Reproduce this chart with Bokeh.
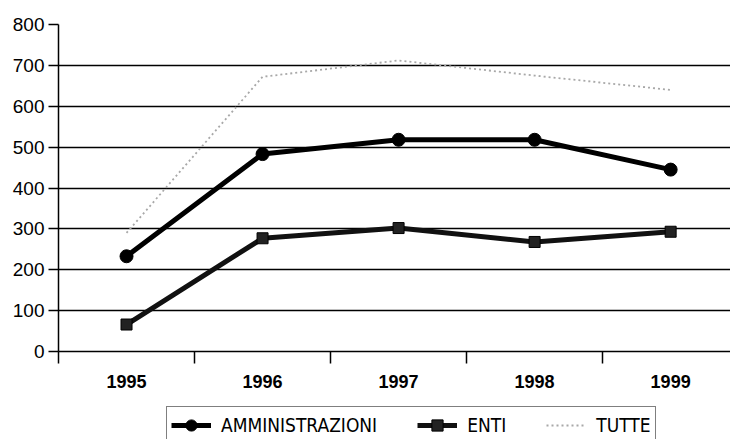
from bokeh.plotting import figure
from bokeh.layouts import column
from bokeh.models import Range1d, FixedTicker, Legend, LegendItem, ColumnDataSource
from bokeh.embed import file_html
from bokeh.resources import INLINE

years = ["1995", "1996", "1997", "1998", "1999"]
amministrazioni = [233, 483, 518, 518, 445]
enti = [66, 277, 302, 268, 293]
tutte = [290, 672, 712, 675, 640]
y_ticks = [0, 100, 200, 300, 400, 500, 600, 700, 800]
series_names = ["AMMINISTRAZIONI", "ENTI", "TUTTE"]

xs = list(range(len(years)))
src = ColumnDataSource(dict(x=xs, amm=amministrazioni, enti=enti, tutte=tutte))

FONT = "Liberation Sans, Arial, sans-serif"
NARROW = "DejaVu Sans Condensed, sans-serif"

STY = {
    "amm_line": dict(line_color="black", line_width=5),
    "amm_mark": dict(marker="circle", size=13, fill_color="black", line_color="black"),
    "enti_line": dict(line_color="#111111", line_width=5),
    "enti_mark": dict(marker="square", size=11, fill_color="#222222", line_color="black"),
    "tutte_line": dict(line_color="#a8a8a8", line_width=1.8, line_dash="2 3"),
}

p = figure(width=730, height=400, output_backend="svg", toolbar_location=None,
           x_range=Range1d(-0.5, 4.44), y_range=Range1d(0, 800),
           min_border_left=58, min_border_right=0, min_border_top=24, min_border_bottom=49)
p.outline_line_color = None
p.background_fill_color = "white"
p.border_fill_color = "white"

# grid
p.xgrid.grid_line_color = None
p.ygrid.grid_line_color = "black"
p.ygrid.grid_line_width = 1.5
p.ygrid.ticker = FixedTicker(ticks=y_ticks)

# y axis
p.yaxis.ticker = FixedTicker(ticks=y_ticks)
p.yaxis.axis_line_color = "black"
p.yaxis.axis_line_width = 1.5
p.yaxis.major_tick_out = 10
p.yaxis.major_tick_in = 0
p.yaxis.major_tick_line_width = 1.5
p.yaxis.minor_tick_line_color = None
p.yaxis.major_label_text_font = FONT
p.yaxis.major_label_text_font_size = "19px"
p.yaxis.major_label_text_color = "black"
p.yaxis.major_label_standoff = 4

# x axis (labels at centres, ticks at category boundaries)
p.xaxis.ticker = FixedTicker(ticks=xs, minor_ticks=[-0.5, 0.5, 1.5, 2.5, 3.5])
p.xaxis.major_label_overrides = {i: y for i, y in enumerate(years)}
p.xaxis.major_tick_out = 0
p.xaxis.major_tick_in = 0
p.xaxis.minor_tick_out = 12
p.xaxis.minor_tick_in = 0
p.xaxis.minor_tick_line_width = 1.5
p.xaxis.minor_tick_line_color = "black"
p.xaxis.axis_line_width = 1.5
p.xaxis.axis_line_color = "black"
p.xaxis.major_label_text_font = FONT
p.xaxis.major_label_text_font_style = "bold"
p.xaxis.major_label_text_font_size = "18px"
p.xaxis.major_label_text_color = "black"
p.xaxis.major_label_standoff = 11

# series
p.line("x", "tutte", source=src, **STY["tutte_line"])
p.line("x", "amm", source=src, **STY["amm_line"])
p.scatter("x", "amm", source=src, **STY["amm_mark"])
p.line("x", "enti", source=src, **STY["enti_line"])
p.scatter("x", "enti", source=src, **STY["enti_mark"])

# legend strip (separate figure so the legend is not clipped)
lg = figure(width=730, height=39, output_backend="svg", toolbar_location=None,
            x_range=Range1d(0, 1), y_range=Range1d(0, 1),
            min_border_left=58, min_border_right=0, min_border_top=0, min_border_bottom=0)
lg.axis.visible = False
lg.grid.visible = False
lg.outline_line_color = None
lg.background_fill_color = "white"
lg.border_fill_color = "white"
# legend proxies: points placed outside the visible range, only their styles are used
proxy = ColumnDataSource(dict(x=[-10, -9], y=[-10, -9]))
l1 = lg.line("x", "y", source=proxy, **STY["amm_line"])
m1 = lg.scatter("x", "y", source=proxy, **STY["amm_mark"])
l2 = lg.line("x", "y", source=proxy, **STY["enti_line"])
m2 = lg.scatter("x", "y", source=proxy, **STY["enti_mark"])
l3 = lg.line("x", "y", source=proxy, **STY["tutte_line"])

legend = Legend(items=[
    LegendItem(label=series_names[0], renderers=[l1, m1]),
    LegendItem(label=series_names[1], renderers=[l2, m2]),
    LegendItem(label=series_names[2], renderers=[l3]),
], orientation="horizontal", location=(108, -5))
legend.border_line_color = "black"
legend.border_line_width = 1.5
legend.background_fill_color = "white"
legend.background_fill_alpha = 1
legend.label_text_font = NARROW
legend.label_text_font_size = "19px"
legend.label_text_color = "black"
legend.glyph_width = 40
legend.glyph_height = 28
legend.label_height = 28
legend.label_standoff = 10
legend.spacing = 40
legend.padding = 4
legend.margin = 0
lg.add_layout(legend, "center")

layout = column(p, lg, spacing=0)
open("out.html", "w").write(file_html(layout, INLINE))
